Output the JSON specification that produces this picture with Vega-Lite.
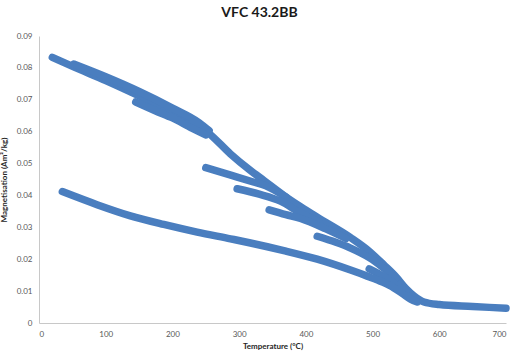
{
  "$schema": "https://vega.github.io/schema/vega-lite/v6.json",
  "width": 467,
  "height": 287,
  "autosize": "none",
  "padding": {"left": 39, "top": 36, "right": 5, "bottom": 35},
  "background": "white",
  "title": {
    "text": "VFC 43.2BB",
    "font": "Lato",
    "fontSize": 14,
    "fontWeight": "bold",
    "color": "#1a1a1a",
    "anchor": "middle",
    "dx": -13,
    "offset": 12
  },
  "config": {
    "view": {"stroke": null},
    "axis": {
      "grid": false,
      "ticks": false,
      "domainColor": "#c8c8c8",
      "domainWidth": 1,
      "labelFont": "Lato",
      "labelFontSize": 8,
      "labelColor": "#595959",
      "titleFont": "Lato",
      "titleFontSize": 8,
      "titleFontWeight": "bold",
      "titleColor": "#262626"
    }
  },
  "data": {
    "values": [
      {"series": "s1", "T": 20, "M": 0.0833},
      {"series": "s1", "T": 52, "M": 0.0803},
      {"series": "s1", "T": 100, "M": 0.0760},
      {"series": "s1", "T": 150, "M": 0.0712},
      {"series": "s1", "T": 200, "M": 0.0662},
      {"series": "s1", "T": 240, "M": 0.0617},
      {"series": "s1", "T": 255, "M": 0.0594},
      {"series": "s1", "T": 287, "M": 0.0530},
      {"series": "s1", "T": 317, "M": 0.0478},
      {"series": "s1", "T": 337, "M": 0.0447},
      {"series": "s1", "T": 367, "M": 0.0400},
      {"series": "s1", "T": 392, "M": 0.0365},
      {"series": "s1", "T": 417, "M": 0.0332},
      {"series": "s1", "T": 467, "M": 0.0268},
      {"series": "s1", "T": 495, "M": 0.0225},
      {"series": "s1", "T": 517, "M": 0.0182},
      {"series": "s1", "T": 535, "M": 0.0145},
      {"series": "s1", "T": 550, "M": 0.0108},
      {"series": "s1", "T": 562, "M": 0.0085},
      {"series": "s1", "T": 577, "M": 0.0066},
      {"series": "s1", "T": 600, "M": 0.0058},
      {"series": "s1", "T": 650, "M": 0.0052},
      {"series": "s1", "T": 700, "M": 0.0046},
      {"series": "s2", "T": 52, "M": 0.0812},
      {"series": "s2", "T": 100, "M": 0.0772},
      {"series": "s2", "T": 150, "M": 0.0726},
      {"series": "s2", "T": 200, "M": 0.0674},
      {"series": "s2", "T": 240, "M": 0.0628},
      {"series": "s2", "T": 255, "M": 0.0603},
      {"series": "s3", "T": 145, "M": 0.0693},
      {"series": "s3", "T": 175, "M": 0.0665},
      {"series": "s3", "T": 200, "M": 0.0643},
      {"series": "s3", "T": 230, "M": 0.0610},
      {"series": "s3", "T": 250, "M": 0.0590},
      {"series": "s4", "T": 250, "M": 0.0487},
      {"series": "s4", "T": 290, "M": 0.0462},
      {"series": "s4", "T": 320, "M": 0.0443},
      {"series": "s4", "T": 340, "M": 0.0430},
      {"series": "s4", "T": 370, "M": 0.0395},
      {"series": "s5", "T": 297, "M": 0.0421},
      {"series": "s5", "T": 330, "M": 0.0404},
      {"series": "s5", "T": 362, "M": 0.0382},
      {"series": "s5", "T": 392, "M": 0.0345},
      {"series": "s5", "T": 420, "M": 0.0318},
      {"series": "s6", "T": 345, "M": 0.0355},
      {"series": "s6", "T": 370, "M": 0.0340},
      {"series": "s6", "T": 392, "M": 0.0328},
      {"series": "s6", "T": 430, "M": 0.0295},
      {"series": "s6", "T": 460, "M": 0.0265},
      {"series": "s7", "T": 417, "M": 0.0272},
      {"series": "s7", "T": 445, "M": 0.0253},
      {"series": "s7", "T": 467, "M": 0.0235},
      {"series": "s7", "T": 495, "M": 0.0205},
      {"series": "s7", "T": 515, "M": 0.0175},
      {"series": "s7", "T": 535, "M": 0.0140},
      {"series": "s8", "T": 495, "M": 0.0170},
      {"series": "s8", "T": 515, "M": 0.0148},
      {"series": "s8", "T": 535, "M": 0.0120},
      {"series": "s8", "T": 550, "M": 0.0098},
      {"series": "s9", "T": 35, "M": 0.0412},
      {"series": "s9", "T": 87, "M": 0.0371},
      {"series": "s9", "T": 137, "M": 0.0336},
      {"series": "s9", "T": 187, "M": 0.0309},
      {"series": "s9", "T": 237, "M": 0.0285},
      {"series": "s9", "T": 287, "M": 0.0264},
      {"series": "s9", "T": 317, "M": 0.0251},
      {"series": "s9", "T": 367, "M": 0.0227},
      {"series": "s9", "T": 417, "M": 0.0200},
      {"series": "s9", "T": 467, "M": 0.0166},
      {"series": "s9", "T": 492, "M": 0.0147},
      {"series": "s9", "T": 515, "M": 0.0128},
      {"series": "s9", "T": 532, "M": 0.0110},
      {"series": "s9", "T": 545, "M": 0.0092},
      {"series": "s9", "T": 557, "M": 0.0075},
      {"series": "s9", "T": 567, "M": 0.0066}
    ]
  },
  "mark": {
    "type": "line",
    "strokeWidth": 7.5,
    "strokeCap": "round",
    "strokeJoin": "round",
    "interpolate": "monotone",
    "color": "#4a7ebf"
  },
  "encoding": {
    "x": {
      "field": "T",
      "type": "quantitative",
      "scale": {"domain": [0, 700], "nice": false, "zero": true},
      "axis": {
        "values": [0, 100, 200, 300, 400, 500, 600, 700],
        "labelPadding": 7,
        "title": "Temperature (°C)",
        "titlePadding": 4
      }
    },
    "y": {
      "field": "M",
      "type": "quantitative",
      "scale": {"domain": [0, 0.09], "nice": false},
      "axis": {
        "values": [0, 0.01, 0.02, 0.03, 0.04, 0.05, 0.06, 0.07, 0.08, 0.09],
        "format": ".2~f",
        "labelPadding": 7,
        "title": "Magnetisation (Am²/kg)",
        "titlePadding": 8
      }
    },
    "detail": {"field": "series", "type": "nominal"}
  }
}
